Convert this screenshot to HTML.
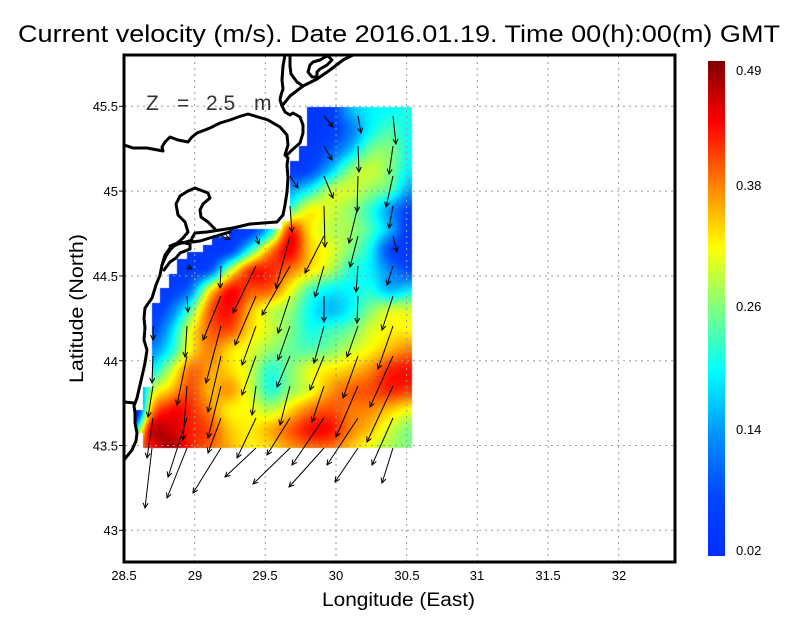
<!DOCTYPE html>
<html><head><meta charset="utf-8">
<style>
html,body{margin:0;padding:0;background:#fff;}
body{width:800px;height:618px;overflow:hidden;position:relative;}
canvas,svg{position:absolute;left:0;top:0;}
text{font-family:"Liberation Sans",sans-serif;}
</style></head>
<body>
<canvas id="c" width="800" height="618"></canvas>
<svg width="800" height="618" viewBox="0 0 800 618" xmlns="http://www.w3.org/2000/svg">
<defs>
<marker id="a" viewBox="-6 -4 7 8" refX="0" refY="0" markerWidth="7" markerHeight="8" markerUnits="userSpaceOnUse" orient="auto">
<path d="M-5,-2.5 L0,0 L-5,2.5" fill="none" stroke="#000" stroke-width="1"/>
</marker>
<linearGradient id="cb" x1="0" y1="1" x2="0" y2="0">
<stop offset="0" stop-color="rgb(0,45,255)"/>
<stop offset="0.12" stop-color="rgb(0,70,255)"/>
<stop offset="0.25" stop-color="rgb(0,150,255)"/>
<stop offset="0.375" stop-color="rgb(0,255,255)"/>
<stop offset="0.5" stop-color="rgb(128,255,128)"/>
<stop offset="0.625" stop-color="rgb(255,255,0)"/>
<stop offset="0.75" stop-color="rgb(255,128,0)"/>
<stop offset="0.875" stop-color="rgb(255,0,0)"/>
<stop offset="1" stop-color="rgb(128,0,0)"/>
</linearGradient>
</defs>

<!-- grid -->
<g stroke="#9a9a9a" stroke-width="1" stroke-dasharray="2,4" fill="none">
<line x1="194.7" y1="56" x2="194.7" y2="561"/>
<line x1="265.3" y1="56" x2="265.3" y2="561"/>
<line x1="336" y1="56" x2="336" y2="561"/>
<line x1="406.6" y1="56" x2="406.6" y2="561"/>
<line x1="477.3" y1="56" x2="477.3" y2="561"/>
<line x1="548" y1="56" x2="548" y2="561"/>
<line x1="618.6" y1="56" x2="618.6" y2="561"/>
<line x1="125" y1="106.3" x2="674" y2="106.3"/>
<line x1="125" y1="191.1" x2="674" y2="191.1"/>
<line x1="125" y1="275.9" x2="674" y2="275.9"/>
<line x1="125" y1="360.7" x2="674" y2="360.7"/>
<line x1="125" y1="445.5" x2="674" y2="445.5"/>
<line x1="125" y1="530.3" x2="674" y2="530.3"/>
</g>

<!-- coastline -->
<g stroke="#000" stroke-width="3" fill="none" stroke-linejoin="round" stroke-linecap="round">
<path d="M124,460 L128,455 L132,450 L136,441 L137,433 L135,423 L135,413 L134,406 L137,398 L140,385 L143,372 L145,363 L147,350 L144,340 L145,328 L144,318 L145,308 L152,298 L156,285 L160,275 L162,265 L165,255 L170,248 L178,244 L186,242 L192,240"/>
<path d="M124,402 L134,403"/>
<path d="M192,238 L195,233 L207,232 L220,230 L233,228 L250,224 L263,223 L277,222 L283,215 L285,205 L287,192 L288,178 L287,165 L288,158 L285,155 L288,145 L287,135 L280,127 L268,120 L258,117 L248,114 L238,117 L230,120 L220,123 L210,128 L197,133 L192,137 L188,142 L178,140 L170,137 L165,142 L162,147 L163,151 L147,148 L133,148 L124,145"/>
<path d="M287,155 L292,150 L300,143 L303,133 L303,125 L300,117 L293,113 L290,115 L285,112 L282,106"/>
<path d="M282,106 L290,96 L303,86 L317,79 L330,70 L343,60 L353,55"/>
<path d="M282,106 L280,100 L281,95 L283,89 L282,80 L283,66 L285,55"/>
<path d="M290,55 L290,66 L291,74 L297,82 L303,86"/>
<path d="M308,72 L310,65 L313,62 L320,60 L325,57 L328,56 L332,60 L327,65 L320,69 L317,72 L317,77 L312,77 Z"/>
<path d="M215,229 L208,222 L201,217 L200,210 L203,204 L210,198 L208,193 L195,188 L188,191 L180,196 L176,204 L178,215 L185,222 L188,232 L183,238 L175,245 L170,250 L166,256 L162,265"/>
<path d="M192,242 L200,241 L213,237 L230,232"/>
<path d="M170,246 L180,242 L190,244 L190,249 L180,253 L176,258 L170,262 L164,270"/>
</g>

<!-- vectors -->
<g stroke="#000" stroke-width="1" fill="none" marker-end="url(#a)">
<line x1="324" y1="116" x2="333" y2="127"/><line x1="358" y1="116" x2="361" y2="133"/><line x1="393" y1="116" x2="396" y2="144"/>
<line x1="324" y1="146" x2="332" y2="160"/><line x1="358" y1="146" x2="359" y2="172"/><line x1="393" y1="146" x2="389" y2="174"/>
<line x1="290" y1="176" x2="298" y2="188"/><line x1="324" y1="176" x2="333" y2="198"/><line x1="358" y1="176" x2="357" y2="212"/><line x1="393" y1="176" x2="386" y2="207"/>
<line x1="290" y1="206" x2="292" y2="232"/><line x1="324" y1="206" x2="325" y2="247"/><line x1="358" y1="206" x2="349" y2="243"/><line x1="393" y1="206" x2="389" y2="228"/>
<line x1="221" y1="236" x2="230" y2="239"/><line x1="256" y1="236" x2="259" y2="244"/><line x1="290" y1="236" x2="276" y2="288"/><line x1="324" y1="236" x2="305" y2="273"/><line x1="358" y1="236" x2="350" y2="267"/><line x1="393" y1="236" x2="397" y2="252"/>
<line x1="187" y1="266" x2="192" y2="269"/><line x1="221" y1="266" x2="220" y2="288"/><line x1="256" y1="266" x2="233" y2="313"/><line x1="290" y1="266" x2="262" y2="315"/><line x1="324" y1="266" x2="315" y2="297"/><line x1="358" y1="266" x2="356" y2="292"/><line x1="393" y1="266" x2="387" y2="285"/>
<line x1="187" y1="296" x2="188" y2="312"/><line x1="221" y1="296" x2="203" y2="340"/><line x1="256" y1="296" x2="235" y2="345"/><line x1="290" y1="296" x2="278" y2="333"/><line x1="324" y1="296" x2="324" y2="322"/><line x1="358" y1="296" x2="357" y2="323"/><line x1="393" y1="296" x2="382" y2="330"/>
<line x1="153" y1="326" x2="153" y2="340"/><line x1="187" y1="326" x2="185" y2="357"/><line x1="221" y1="326" x2="206" y2="383"/><line x1="256" y1="326" x2="242" y2="365"/><line x1="290" y1="326" x2="278" y2="360"/><line x1="324" y1="326" x2="314" y2="363"/><line x1="358" y1="326" x2="347" y2="357"/><line x1="393" y1="326" x2="378" y2="369"/>
<line x1="153" y1="356" x2="152" y2="383"/><line x1="187" y1="356" x2="177" y2="405"/><line x1="221" y1="356" x2="208" y2="412"/><line x1="256" y1="356" x2="242" y2="395"/><line x1="290" y1="356" x2="277" y2="387"/><line x1="324" y1="356" x2="310" y2="390"/><line x1="358" y1="356" x2="343" y2="398"/><line x1="393" y1="356" x2="370" y2="407"/>
<line x1="153" y1="386" x2="148" y2="417"/><line x1="187" y1="386" x2="183" y2="440"/><line x1="221" y1="386" x2="208" y2="438"/><line x1="256" y1="386" x2="252" y2="415"/><line x1="290" y1="386" x2="280" y2="425"/><line x1="324" y1="386" x2="312" y2="422"/><line x1="358" y1="386" x2="336" y2="437"/><line x1="393" y1="386" x2="367" y2="442"/>
<line x1="153" y1="418" x2="147" y2="458"/><line x1="187" y1="418" x2="168" y2="477"/><line x1="221" y1="418" x2="208" y2="453"/><line x1="256" y1="418" x2="237" y2="458"/><line x1="290" y1="418" x2="267" y2="455"/><line x1="324" y1="418" x2="292" y2="465"/><line x1="358" y1="418" x2="327" y2="465"/><line x1="393" y1="418" x2="372" y2="465"/>
<line x1="152" y1="448" x2="145" y2="508"/><line x1="187" y1="448" x2="167" y2="498"/><line x1="221" y1="448" x2="193" y2="493"/><line x1="256" y1="448" x2="225" y2="477"/><line x1="290" y1="448" x2="253" y2="484"/><line x1="324" y1="448" x2="289" y2="487"/><line x1="358" y1="448" x2="335" y2="482"/><line x1="393" y1="448" x2="382" y2="483"/>
</g>

<!-- frame -->
<rect x="124" y="55" width="551" height="507" fill="none" stroke="#000" stroke-width="3"/>
<g stroke="#000" stroke-width="1">
<line x1="119" y1="106.3" x2="124" y2="106.3"/><line x1="119" y1="191.1" x2="124" y2="191.1"/><line x1="119" y1="275.9" x2="124" y2="275.9"/>
<line x1="119" y1="360.7" x2="124" y2="360.7"/><line x1="119" y1="445.5" x2="124" y2="445.5"/><line x1="119" y1="530.3" x2="124" y2="530.3"/>
</g>

<!-- tick labels -->
<g font-size="13" fill="#000" text-anchor="end">
<text x="118" y="111">45.5</text>
<text x="118" y="196">45</text>
<text x="118" y="281">44.5</text>
<text x="118" y="366">44</text>
<text x="118" y="450.5">43.5</text>
<text x="118" y="535">43</text>
</g>
<g font-size="13" fill="#000" text-anchor="middle">
<text x="124" y="580">28.5</text>
<text x="195" y="580">29</text>
<text x="265" y="580">29.5</text>
<text x="336" y="580">30</text>
<text x="407" y="580">30.5</text>
<text x="477" y="580">31</text>
<text x="548" y="580">31.5</text>
<text x="619" y="580">32</text>
</g>

<!-- titles -->
<text x="18" y="42" font-size="24" fill="#000" textLength="762" lengthAdjust="spacingAndGlyphs">Current velocity (m/s). Date 2016.01.19. Time 00(h):00(m) GMT</text>
<g font-size="21" fill="#333">
<text x="146" y="110">Z</text>
<text x="177" y="110">=</text>
<text x="206" y="110">2.5</text>
<text x="254" y="110">m</text>
</g>
<text x="322" y="606" font-size="19" fill="#000" textLength="153" lengthAdjust="spacingAndGlyphs">Longitude (East)</text>
<text transform="translate(83,383) rotate(-90)" x="0" y="0" font-size="19" fill="#000" textLength="149" lengthAdjust="spacingAndGlyphs">Latitude (North)</text>

<!-- colorbar -->
<rect x="708" y="61" width="17" height="495" fill="url(#cb)"/>
<g font-size="13" fill="#000">
<text x="736" y="75">0.49</text>
<text x="736" y="190">0.38</text>
<text x="736" y="311">0.26</text>
<text x="736" y="434">0.14</text>
<text x="736" y="555">0.02</text>
</g>
</svg>
<script>
(function(){
var G=[
[0.05,0.05,0.05,0.05,0.05,0.05,0.05,0.05,0.05,0.05,0.08,0.28,0.36,0.38,0.40],
[0.05,0.05,0.05,0.05,0.05,0.05,0.05,0.05,0.05,0.05,0.08,0.20,0.37,0.44,0.38],
[0.05,0.05,0.05,0.05,0.05,0.05,0.05,0.05,0.05,0.07,0.15,0.30,0.48,0.50,0.38],
[0.05,0.05,0.05,0.05,0.05,0.05,0.05,0.05,0.06,0.12,0.30,0.50,0.57,0.50,0.36],
[0.05,0.05,0.05,0.05,0.05,0.05,0.05,0.10,0.25,0.38,0.55,0.58,0.52,0.45,0.26],
[0.05,0.05,0.05,0.05,0.05,0.05,0.05,0.30,0.45,0.62,0.58,0.52,0.42,0.25,0.10],
[0.05,0.05,0.05,0.05,0.05,0.05,0.08,0.35,0.82,0.65,0.56,0.53,0.44,0.28,0.06],
[0.05,0.05,0.05,0.05,0.05,0.10,0.40,0.72,0.88,0.68,0.60,0.50,0.38,0.12,0.06],
[0.05,0.05,0.05,0.08,0.15,0.55,0.82,0.84,0.76,0.65,0.55,0.42,0.36,0.22,0.12],
[0.05,0.05,0.08,0.20,0.62,0.86,0.80,0.78,0.62,0.45,0.37,0.37,0.40,0.30,0.35],
[0.06,0.06,0.18,0.45,0.78,0.86,0.70,0.58,0.52,0.38,0.30,0.37,0.50,0.58,0.58],
[0.10,0.10,0.30,0.60,0.78,0.80,0.66,0.58,0.50,0.40,0.43,0.48,0.58,0.63,0.63],
[0.20,0.22,0.38,0.63,0.75,0.66,0.60,0.52,0.48,0.46,0.50,0.57,0.63,0.70,0.75],
[0.30,0.35,0.55,0.76,0.72,0.66,0.58,0.42,0.50,0.60,0.64,0.68,0.74,0.84,0.86],
[-0.2,0.50,0.68,0.80,0.70,0.72,0.58,0.42,0.52,0.60,0.72,0.78,0.80,0.84,0.82],
[-0.4,0.65,0.86,0.84,0.74,0.64,0.62,0.56,0.66,0.76,0.80,0.76,0.74,0.68,0.62],
[0.20,0.88,0.92,0.85,0.80,0.68,0.64,0.70,0.78,0.86,0.86,0.75,0.68,0.58,0.50],
[0.75,0.85,0.97,0.85,0.78,0.70,0.64,0.65,0.72,0.76,0.76,0.68,0.60,0.54,0.50]
];
var NR=G.length,NC=G[0].length;
var ST=[[0,0,45,255],[0.12,0,70,255],[0.25,0,150,255],[0.375,0,255,255],[0.5,128,255,128],[0.625,255,255,0],[0.75,255,128,0],[0.875,255,0,0],[1,128,0,0]];
function cm(t){
 if(t<=0)return [ST[0][1],ST[0][2],ST[0][3]];
 if(t>=1)return [ST[8][1],ST[8][2],ST[8][3]];
 for(var i=1;i<ST.length;i++){
  if(t<=ST[i][0]){var a=ST[i-1],b=ST[i],f=(t-a[0])/(b[0]-a[0]);
   return [a[1]+(b[1]-a[1])*f,a[2]+(b[2]-a[2])*f,a[3]+(b[3]-a[3])*f];}
 }
 return [128,0,0];
}
function cr(p0,p1,p2,p3,t){return p1+0.5*t*(p2-p0+t*(2*p0-5*p1+4*p2-p3+t*(3*(p1-p2)+p3-p0)));}
function g(r,c){r=Math.max(0,Math.min(NR-1,r));c=Math.max(0,Math.min(NC-1,c));return G[r][c];}
function val(x,y){
 var gx=(x-130)/20,gy=(y-110)/20;
 gx=Math.max(0,Math.min(NC-1,gx));gy=Math.max(0,Math.min(NR-1,gy));
 var c0=Math.floor(gx),r0=Math.floor(gy);
 if(c0>NC-2)c0=NC-2; if(r0>NR-2)r0=NR-2;
 var tx=gx-c0,ty=gy-r0,rw=[];
 for(var k=-1;k<=2;k++){rw.push(cr(g(r0+k,c0-1),g(r0+k,c0),g(r0+k,c0+1),g(r0+k,c0+2),tx));}
 return cr(rw[0],rw[1],rw[2],rw[3],ty);
}
var cv=document.getElementById('c'),ctx=cv.getContext('2d');
var off=document.createElement('canvas');off.width=800;off.height=618;
var oc=off.getContext('2d');var img=oc.createImageData(800,618);var d=img.data;
for(var y=100;y<454;y++){for(var x=128;x<416;x++){
 var v=val(x+0.5,y+0.5);var c=cm(v);var i=(y*800+x)*4;
 d[i]=c[0];d[i+1]=c[1];d[i+2]=c[2];d[i+3]=255;}}
oc.putImageData(img,0,0);
var P=[[307,107],[412,107],[412,448],[143,448],[143,433],[135,433],[135,410],[143,410],[143,387],[152,387],[152,303],[160,303],[160,288],[169,288],[169,274],[177,274],[177,259],[187,259],[187,252],[203,252],[203,245],[212,245],[212,237],[229,237],[229,229],[282,229],[282,221],[290,221],[290,161],[299,161],[299,146],[307,146]];
ctx.save();ctx.beginPath();ctx.moveTo(P[0][0],P[0][1]);
for(var j=1;j<P.length;j++)ctx.lineTo(P[j][0],P[j][1]);
ctx.closePath();ctx.clip();ctx.drawImage(off,0,0);ctx.restore();
})();
</script>
</body></html>
